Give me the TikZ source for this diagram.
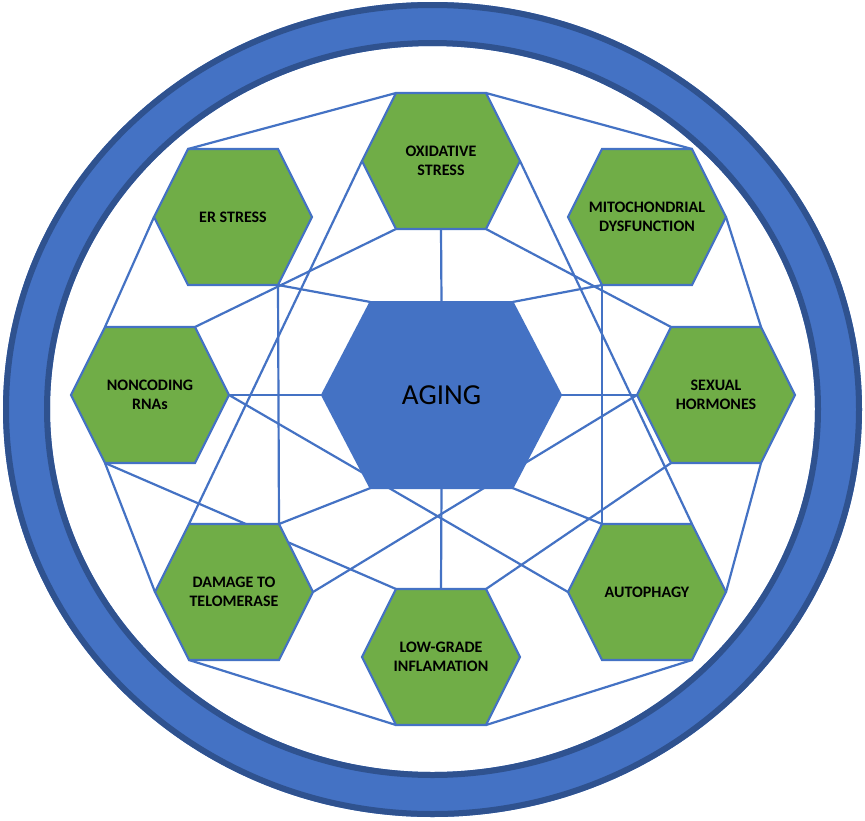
\documentclass[tikz,border=0pt]{standalone}
\usepackage{fontspec}
\setmainfont{Carlito}
\definecolor{ringblue}{HTML}{4472C4}
\definecolor{ringdark}{HTML}{2F528F}
\definecolor{hexgreen}{HTML}{70AD47}
% name, x, y, half width, half top edge, half height
\newcommand\hexcoords[6]{%
  \begin{scope}[shift={(#2,#3)}]
    \coordinate (#1-l)  at (-#4,0);
    \coordinate (#1-tl) at (-#5,-#6);
    \coordinate (#1-t)  at (0,-#6);
    \coordinate (#1-tr) at (#5,-#6);
    \coordinate (#1-r)  at (#4,0);
    \coordinate (#1-br) at (#5,#6);
    \coordinate (#1-b)  at (0,#6);
    \coordinate (#1-bl) at (-#5,#6);
  \end{scope}}
\newcommand\hexdraw[2]{%
  \path[#2] (#1-l) -- (#1-tl) -- (#1-tr) -- (#1-r) -- (#1-br) -- (#1-bl) -- cycle;}
\begin{document}
\begin{tikzpicture}[x=1pt,y=-1pt,
  conn/.style={draw=ringblue, line width=2.2pt},
  hexshape/.style={fill=hexgreen, draw=ringblue, line width=2.2pt, line join=miter},
  agingshape/.style={fill=ringblue, draw=ringblue, line width=2pt},
  hexlabel/.style={font=\bfseries\fontsize{16}{18.5}\selectfont, align=center, text=black, inner sep=0pt},
  aginglabel/.style={font=\fontsize{29}{32}\selectfont, text=black, inner sep=0pt}]
\useasboundingbox (0,0) rectangle (865,820);
\fill[white] (0,0) rectangle (865,820);
% ring
\fill[ringblue, even odd rule] (432.5,409.5) ellipse [x radius=429.5, y radius=407.5]
   (432.5,409) ellipse [x radius=382.5, y radius=363];
\draw[ringdark, line width=6pt] (432.5,409.5) ellipse [x radius=426.5, y radius=404.5];
\draw[ringdark, line width=6pt] (432.5,409) ellipse [x radius=385.5, y radius=366];
% hexagon corner coordinates
\hexcoords{ox}{441}{161}{79}{45}{68}
\hexcoords{er}{233}{217}{79}{45}{68}
\hexcoords{mi}{647}{217}{79}{45}{68}
\hexcoords{nc}{150}{395}{79}{45}{68}
\hexcoords{sx}{716}{395}{79}{45}{68}
\hexcoords{dm}{234}{592}{79}{45}{68}
\hexcoords{au}{647}{592}{79}{45}{68}
\hexcoords{lg}{441}{657}{79}{45}{68}
\hexcoords{ag}{441.5}{395}{119.5}{71}{93}
% outer polygon
\draw[conn] (ox-tl) -- (er-tl);
\draw[conn] (ox-tr) -- (mi-tr);
\draw[conn] (er-l) -- (nc-tl);
\draw[conn] (mi-r) -- (sx-tr);
\draw[conn] (nc-bl) -- (dm-l);
\draw[conn] (sx-br) -- (au-r);
\draw[conn] (dm-bl) -- (lg-bl);
\draw[conn] (au-br) -- (lg-br);
% spokes to aging
\draw[conn] (ox-b) -- (ag-t);
\draw[conn] (lg-t) -- (ag-b);
\draw[conn] (nc-r) -- (ag-l);
\draw[conn] (sx-l) -- (ag-r);
\draw[conn] (er-br) -- (ag-tl);
\draw[conn] (mi-bl) -- (ag-tr);
\draw[conn] (dm-tr) -- (ag-bl);
\draw[conn] (au-tl) -- (ag-br);
% cross lines
\draw[conn] (ox-bl) -- (nc-tr);
\draw[conn] (ox-br) -- (sx-tl);
\draw[conn] (ox-l) -- (dm-tl);
\draw[conn] (ox-r) -- (au-tr);
\draw[conn] (er-br) -- (dm-tr);
\draw[conn] (mi-bl) -- (au-tl);
\draw[conn] (nc-bl) -- (lg-tl);
\draw[conn] (sx-bl) -- (lg-tr);
\draw[conn] (nc-r) -- (au-l);
\draw[conn] (sx-l) -- (dm-r);
% hexagons
\hexdraw{ox}{hexshape}
\hexdraw{er}{hexshape}
\hexdraw{mi}{hexshape}
\hexdraw{nc}{hexshape}
\hexdraw{sx}{hexshape}
\hexdraw{dm}{hexshape}
\hexdraw{au}{hexshape}
\hexdraw{lg}{hexshape}
\hexdraw{ag}{agingshape}
% labels
\node[hexlabel] (oxt) at (441,161) {OXIDATIVE\\STRESS};
\node[hexlabel] (ert) at (233,217) {ER STRESS};
\node[hexlabel] (mit) at (647,217) {MITOCHONDRIAL\\DYSFUNCTION};
\node[hexlabel] (nct) at (150,395) {NONCODING\\RNAs};
\node[hexlabel] (sxt) at (716,395) {SEXUAL\\HORMONES};
\node[hexlabel] (dmt) at (234,592) {DAMAGE TO\\TELOMERASE};
\node[hexlabel] (aut) at (647,592) {AUTOPHAGY};
\node[hexlabel] (lgt) at (441,657) {LOW-GRADE\\INFLAMATION};
\node[aginglabel] (agt) at (441.5,395) {AGING};
\end{tikzpicture}
\end{document}
